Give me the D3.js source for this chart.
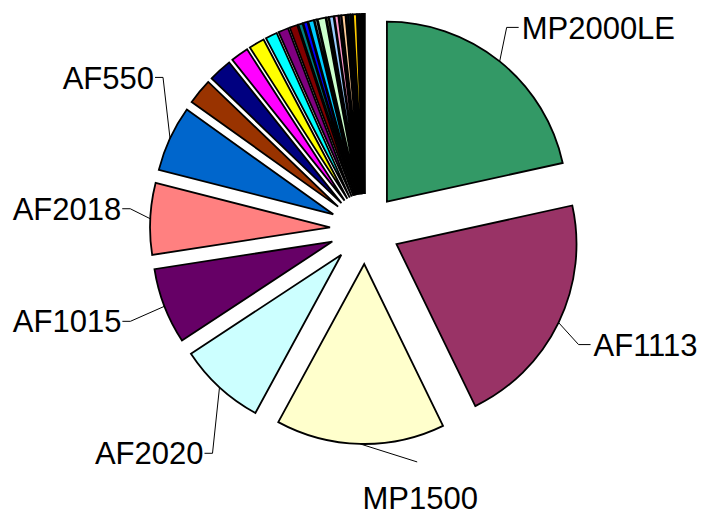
<!DOCTYPE html>
<html>
<head>
<meta charset="utf-8">
<script src="https://cdn.jsdelivr.net/npm/d3@7"></script>
<style>
  html, body { margin: 0; padding: 0; background: #ffffff; }
  svg { display: block; }
  text { font-family: "Liberation Sans", Arial, sans-serif; }
</style>
</head>
<body>
<svg id="chart" width="723" height="517"></svg>
<script>
// Share of each model (percent), clockwise from 12 o'clock
const categories = [
  "MP2000LE", "AF1113", "MP1500", "AF2020", "AF1015", "AF2018", "AF550",
  "Other 1", "Other 2", "Other 3", "Other 4", "Other 5", "Other 6", "Other 7",
  "Other 8", "Other 9", "Other 10", "Other 11", "Other 12", "Other 13",
  "Other 14", "Other 15", "Other 16", "Other 17", "Other 18", "Other 19",
  "Other 20", "Other 21", "Other 22", "Other 23", "Other 24", "Other 25"
];
const shares = [
  21.5, 21.2, 15.1, 7.8, 6.8, 6.4, 5.9,
  2.3, 2.1, 1.6, 1.4, 1.05, 0.9, 0.7,
  0.38, 0.38, 0.5, 0.2, 0.7, 0.18,
  0.4, 0.35, 0.18, 0.35, 0.17, 0.17,
  0.16, 0.34, 0.15, 0.15, 0.14, 0.14
];
const sliceColors = [
  "#339966", "#993366", "#FFFFCC", "#CCFFFF", "#660066", "#FF8080", "#0066CC",
  "#993300", "#000080", "#FF00FF", "#FFFF00", "#00FFFF", "#800080", "#800000",
  "#008080", "#0000FF", "#00CCFF", "#CCFFFF", "#CCFFCC", "#FFFF99",
  "#99CCFF", "#FF99CC", "#CC99FF", "#FFCC99", "#3366FF", "#33CCCC",
  "#99CC00", "#FFCC00", "#FF9900", "#FF6600", "#666699", "#969696"
];
// Slices that carry a text label
const labelled = ["MP2000LE", "AF1113", "MP1500", "AF2020", "AF1015", "AF2018", "AF550"];

// Layout
const W = 723, H = 517;
const cx = 365, cy = 229;
const radius = 180;
const explode = 35;
const fontSize = 31;

// Label placement: elbow offset from the slice edge point, and which side the text sits on
const labelLayout = {
  "MP2000LE": { ex: 7,   ey: -34, side: "right" },
  "AF1113":   { ex: 20,  ey: 22,  side: "right" },
  "MP1500":   { ex: 57,  ey: 18,  side: "below" },
  "AF2020":   { ex: -7,  ey: 66,  side: "left" },
  "AF1015":   { ex: -34, ey: 15,  side: "left" },
  "AF2018":   { ex: -20, ey: -10, side: "left" },
  "AF550":    { ex: -7,  ey: -61, side: "left" }
};

const data = categories.map((c, i) => ({ name: c, value: shares[i], color: sliceColors[i] }));

const svg = d3.select("#chart");
const g = svg.append("g").attr("transform", `translate(${cx},${cy})`);

const pie = d3.pie().sort(null).value(d => d.value).startAngle(0).endAngle(2 * Math.PI);
const arcs = pie(data);
const arc = d3.arc().innerRadius(0).outerRadius(radius);

const unit = a => [Math.sin(a), -Math.cos(a)];

g.selectAll("path.slice")
  .data(arcs)
  .enter()
  .append("path")
  .attr("class", "slice")
  .attr("d", arc)
  .attr("transform", d => {
    const m = (d.startAngle + d.endAngle) / 2;
    const [ux, uy] = unit(m);
    return `translate(${ux * explode},${uy * explode})`;
  })
  .attr("fill", d => d.data.color)
  .attr("stroke", "#000")
  .attr("stroke-width", 1.8)
  .attr("stroke-linejoin", "miter");

// Leader lines and labels
const labelG = g.append("g");
arcs.filter(d => labelled.includes(d.data.name)).forEach(d => {
  const m = (d.startAngle + d.endAngle) / 2;
  const [ux, uy] = unit(m);
  const ex = ux * (explode + radius), ey = uy * (explode + radius);
  const L = labelLayout[d.data.name];
  const bx = ex + L.ex, by = ey + L.ey;
  let pts, tx, ty, anchor;
  if (L.side === "right") {
    pts = [[ex, ey], [bx, by], [bx + 12, by]];
    tx = bx + 15; ty = by + fontSize * 0.36; anchor = "start";
  } else if (L.side === "left") {
    pts = [[ex, ey], [bx, by], [bx - 8, by]];
    tx = bx - 9; ty = by + fontSize * 0.36; anchor = "end";
  } else {
    pts = [[ex, ey], [bx, by]];
    tx = bx + 3; ty = by + 47; anchor = "middle";
  }
  labelG.append("path")
    .attr("d", d3.line()(pts))
    .attr("fill", "none")
    .attr("stroke", "#000")
    .attr("stroke-width", 1);
  labelG.append("text")
    .attr("x", tx)
    .attr("y", ty)
    .attr("text-anchor", anchor)
    .attr("font-size", fontSize)
    .attr("fill", "#000")
    .text(d.data.name);
});
</script>
</body>
</html>
